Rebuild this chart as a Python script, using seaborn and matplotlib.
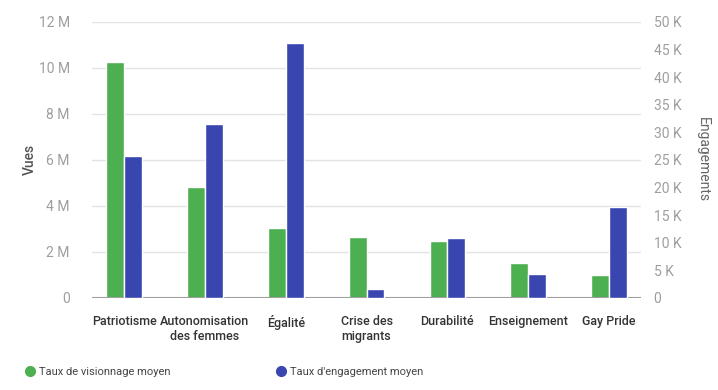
import pandas as pd
import numpy as np
import matplotlib
matplotlib.use("Agg")
import matplotlib.pyplot as plt
from matplotlib.ticker import FuncFormatter
from matplotlib.lines import Line2D
import seaborn as sns

categories = ["Patriotisme", "Autonomisation\ndes femmes", "Égalité", "Crise des\nmigrants",
              "Durabilité", "Enseignement", "Gay Pride"]
views = [10.26e6, 4.83e6, 3.04e6, 2.65e6, 2.48e6, 1.52e6, 1.0e6]
engagements = [25.7e3, 31.5e3, 46.2e3, 1.6e3, 10.9e3, 4.3e3, 16.5e3]
series = ["Taux de visionnage moyen", "Taux d'engagement moyen"]

green = "#4caf50"
blue = "#3a46b0"

sns.set_theme(style="white")
plt.rcParams['font.family'] = ['Roboto', 'DejaVu Sans']

df_views = pd.DataFrame({"cat": categories, "val": views, "serie": series[0]})
df_eng = pd.DataFrame({"cat": categories, "val": engagements, "serie": series[1]})

fig = plt.figure(figsize=(7.18, 3.9), dpi=100)
ax = fig.add_axes([0.128, 0.236, 0.765, 0.708])
ax2 = ax.twinx()

sns.barplot(data=df_views, x="cat", y="val", hue="serie", hue_order=series,
            palette=[green, blue], width=0.44, gap=0, dodge=True, ax=ax,
            legend=False, saturation=1)
sns.barplot(data=df_eng, x="cat", y="val", hue="serie", hue_order=series,
            palette=[green, blue], width=0.44, gap=0, dodge=True, ax=ax2,
            legend=False, saturation=1)

ax.set_xlim(-0.4, 6.4)
ax.set_ylim(0, 12e6)
ax2.set_ylim(0, 50e3)
ax.set_yticks(np.arange(0, 12.1e6, 2e6))
ax2.set_yticks(np.arange(0, 50.1e3, 5e3))

ax.yaxis.set_major_formatter(FuncFormatter(lambda v, p: "0" if v == 0 else f"{v/1e6:.0f} M"))
ax2.yaxis.set_major_formatter(FuncFormatter(lambda v, p: "0" if v == 0 else f"{v/1e3:.0f} K"))

ax.grid(axis="y", color="#e3e3e3", linewidth=1)
ax.set_axisbelow(True)
for a in (ax, ax2):
    for s in a.spines.values():
        s.set_visible(False)
    a.tick_params(length=0)
ax.axhline(0, color="#9e9e9e", linewidth=1.5, zorder=5)

ax.tick_params(axis="y", labelsize=10, labelcolor="#9e9e9e", pad=16)
ax2.tick_params(axis="y", labelsize=10, labelcolor="#9e9e9e", pad=9)
ax.tick_params(axis="x", labelsize=9, labelcolor="#333333", pad=12)
for t in ax.get_xticklabels():
    t.set_fontweight("medium")

ax.set_xlabel("")
ax.set_ylabel("Vues", fontsize=10, color="#555555", fontweight="medium")
ax.yaxis.set_label_coords(-0.1, 0.5)
ax2.set_ylabel("Engagements", fontsize=10, color="#666666", rotation=270, va="center")
ax2.yaxis.set_label_coords(1.112, 0.5)

handles = [Line2D([], [], marker="o", linestyle="", color=green, markersize=7),
           Line2D([], [], marker="o", linestyle="", color=blue, markersize=7)]
fig.legend(handles, series, loc="center left", bbox_to_anchor=(0.02, 0.047), ncol=2,
           frameon=False, fontsize=8, handletextpad=0.3, columnspacing=9.5,
           labelcolor="#444444", handlelength=1)

fig.savefig("out.png", dpi=100, facecolor="white")
